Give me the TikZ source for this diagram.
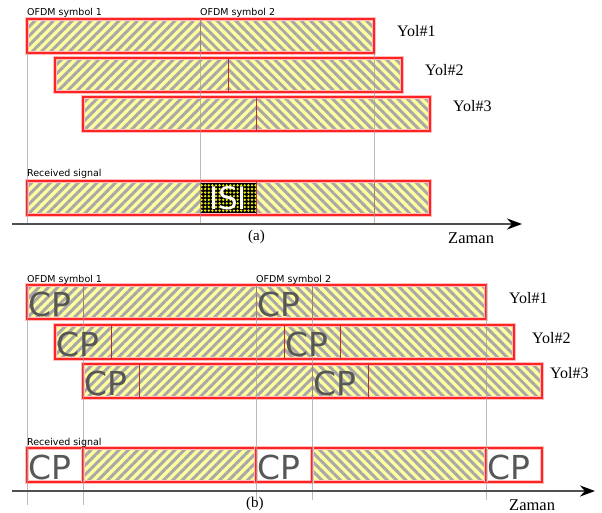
\documentclass[tikz,border=0pt]{standalone}
\usepackage{fontspec}
\setmainfont{Liberation Serif}
\newfontfamily\dvsans{DejaVu Sans}
\usetikzlibrary{patterns.meta,arrows.meta}
\definecolor{hyel}{HTML}{FFFF9E}
\definecolor{hgray}{HTML}{A8A8A8}
\definecolor{bred}{HTML}{FF2424}
\definecolor{dred}{HTML}{B83030}
\definecolor{cpgray}{HTML}{575757}
\definecolor{guidegray}{HTML}{A0A0A0}
\definecolor{axgray}{HTML}{505050}
\definecolor{isiyel}{HTML}{F0F000}
\begin{document}
\begin{tikzpicture}[x=1pt,y=-1pt,
  seg/.style={rectangle,inner sep=0pt,outer sep=0pt,minimum height=34pt,anchor=north west},
  hatchR/.style={preaction={fill=hyel},pattern={Lines[angle=45,distance=6.6pt,line width=3pt]},pattern color=hgray},
  hatchL/.style={preaction={fill=hyel},pattern={Lines[angle=-45,distance=6.6pt,line width=3pt]},pattern color=hgray},
  isibox/.style={preaction={fill=black},pattern={Dots[distance=3.6pt,radius=1.3pt]},pattern color=isiyel,
    text=white,font=\dvsans\fontsize{31}{33}\selectfont},
  blankbox/.style={fill=white},
  rowframe/.style={draw=bred,line width=1.4pt,preaction={draw=bred!30,line width=3.4pt}},
  divider/.style={draw=dred,line width=0.9pt},
  guideline/.style={draw=guidegray,line width=0.6pt,opacity=0.7},
  cptext/.style={anchor=base west,inner sep=0pt,text=cpgray,font=\dvsans\fontsize{33}{35}\selectfont},
  lbltext/.style={anchor=base west,inner sep=0pt,font=\dvsans\fontsize{9.5}{11}\selectfont},
  yoltext/.style={anchor=base west,inner sep=0pt,font=\fontsize{16}{18}\selectfont},
  zamtext/.style={anchor=base west,inner sep=0pt,font=\fontsize{16.5}{18}\selectfont},
  subcap/.style={anchor=base west,inner sep=0pt,font=\fontsize{15}{17}\selectfont},
  timeaxis/.style={draw=axgray,line width=2pt,arrows={-Stealth[length=15pt,width=11pt,black]}}
]
\useasboundingbox (0,0) rectangle (602,513);

% ---------------- (a) ----------------
\node[seg,hatchR,minimum width=173pt] (a1a) at (27,19) {};
\node[seg,hatchL,minimum width=174pt] (a1b) at (200,19) {};
\draw[rowframe] (a1a.north west) rectangle (a1b.south east);
\draw[divider] (a1a.north east) -- (a1a.south east);

\node[seg,hatchR,minimum width=173pt] (a2a) at (55,58) {};
\node[seg,hatchL,minimum width=174pt] (a2b) at (228,58) {};
\draw[rowframe] (a2a.north west) rectangle (a2b.south east);
\draw[divider] (a2a.north east) -- (a2a.south east);

\node[seg,hatchR,minimum width=173pt] (a3a) at (83,97) {};
\node[seg,hatchL,minimum width=174pt] (a3b) at (256,97) {};
\draw[rowframe] (a3a.north west) rectangle (a3b.south east);
\draw[divider] (a3a.north east) -- (a3a.south east);

\node[seg,hatchR,minimum width=173pt] (aRa) at (27,181) {};
\node[seg,isibox,minimum width=56pt] (aRisi) at (200,181) {ISI};
\node[seg,hatchL,minimum width=118pt] (aRb) at (256,181) {};
\node[seg,hatchL,minimum width=56pt] (aRc) at (374,181) {};
\draw[rowframe] (aRa.north west) rectangle (aRc.south east);
\draw[divider] (aRa.north east) -- (aRa.south east);
\draw[divider] (aRisi.north east) -- (aRisi.south east);
\draw[divider] (aRb.north east) -- (aRb.south east);

\coordinate (aAx0) at (12,224);
\coordinate (aAx1) at (522,224);
\coordinate (ag1) at (27,224);
\coordinate (ag2) at (200,224);
\coordinate (ag3) at (374,224);
\draw[guideline] (a1a.south west) -- (ag1);
\draw[guideline] (a1a.north east) -- (ag2);
\draw[guideline] (a1b.south east) -- (ag3);
\draw[timeaxis] (aAx0) -- (aAx1);

\node[lbltext] (aL1) at (27,15.5) {OFDM symbol 1};
\node[lbltext] (aL2) at (200,15.5) {OFDM symbol 2};
\node[lbltext] (aLR) at (27,177) {Received signal};
\node[yoltext] (aY1) at (397,37) {Yol\#1};
\node[yoltext] (aY2) at (425,76) {Yol\#2};
\node[yoltext] (aY3) at (453,112) {Yol\#3};
\node[zamtext] (aZ) at (448,243) {Zaman};
\node[subcap] (aCap) at (248,240) {(a)};

% ---------------- (b) ----------------
\node[seg,hatchR,minimum width=56pt] (b1c1) at (27,285) {};
\node[seg,hatchR,minimum width=173pt] (b1d1) at (83,285) {};
\node[seg,hatchL,minimum width=56pt] (b1c2) at (256,285) {};
\node[seg,hatchL,minimum width=174pt] (b1d2) at (312,285) {};
\draw[rowframe] (b1c1.north west) rectangle (b1d2.south east);
\draw[divider] (b1c1.north east) -- (b1c1.south east);
\draw[divider] (b1d1.north east) -- (b1d1.south east);
\draw[divider] (b1c2.north east) -- (b1c2.south east);

\node[seg,hatchR,minimum width=56pt] (b2c1) at (55,325) {};
\node[seg,hatchR,minimum width=173pt] (b2d1) at (111,325) {};
\node[seg,hatchL,minimum width=56pt] (b2c2) at (284,325) {};
\node[seg,hatchL,minimum width=174pt] (b2d2) at (340,325) {};
\draw[rowframe] (b2c1.north west) rectangle (b2d2.south east);
\draw[divider] (b2c1.north east) -- (b2c1.south east);
\draw[divider] (b2d1.north east) -- (b2d1.south east);
\draw[divider] (b2c2.north east) -- (b2c2.south east);

\node[seg,hatchR,minimum width=56pt] (b3c1) at (83,364) {};
\node[seg,hatchR,minimum width=173pt] (b3d1) at (139,364) {};
\node[seg,hatchL,minimum width=56pt] (b3c2) at (312,364) {};
\node[seg,hatchL,minimum width=174pt] (b3d2) at (368,364) {};
\draw[rowframe] (b3c1.north west) rectangle (b3d2.south east);
\draw[divider] (b3c1.north east) -- (b3c1.south east);
\draw[divider] (b3d1.north east) -- (b3d1.south east);
\draw[divider] (b3c2.north east) -- (b3c2.south east);

\node[seg,blankbox,minimum width=56pt] (bRc1) at (27,448) {};
\node[seg,hatchR,minimum width=173pt] (bRd1) at (83,448) {};
\node[seg,blankbox,minimum width=56pt] (bRc2) at (256,448) {};
\node[seg,hatchL,minimum width=174pt] (bRd2) at (312,448) {};
\node[seg,blankbox,minimum width=56pt] (bRc3) at (486,448) {};
\draw[rowframe] (bRc1.north west) rectangle (bRc3.south east);
\draw[rowframe] (bRc1.north east) -- (bRc1.south east);
\draw[rowframe] (bRc2.north west) rectangle (bRc2.south east);
\draw[rowframe] (bRc3.north west) -- (bRc3.south west);

\coordinate (bAx0) at (12,491);
\coordinate (bAx1) at (595,491);
\coordinate (bg1) at (27,505);
\coordinate (bg2) at (83,505);
\coordinate (bg3) at (256,500);
\coordinate (bg4) at (312,500);
\coordinate (bg5) at (486,500);
\draw[guideline] (b1c1.north west) -- (bg1);
\draw[guideline] (b1c1.north east) -- (bg2);
\draw[guideline] (b1c2.north west) -- (bg3);
\draw[guideline] (b1c2.north east) -- (bg4);
\draw[guideline] (b1d2.north east) -- (bg5);
\draw[timeaxis] (bAx0) -- (bAx1);

\node[cptext] (t11) at (28,316) {CP};
\node[cptext] (t12) at (257,316) {CP};
\node[cptext] (t21) at (56,356) {CP};
\node[cptext] (t22) at (285,356) {CP};
\node[cptext] (t31) at (84,395) {CP};
\node[cptext] (t32) at (313,395) {CP};
\node[cptext] (tR1) at (28,479) {CP};
\node[cptext] (tR2) at (257,479) {CP};
\node[cptext] (tR3) at (487,479) {CP};

\node[lbltext] (bL1) at (27,282) {OFDM symbol 1};
\node[lbltext] (bL2) at (256,282) {OFDM symbol 2};
\node[lbltext] (bLR) at (27,445) {Received signal};
\node[yoltext] (bY1) at (509,303) {Yol\#1};
\node[yoltext] (bY2) at (532,343) {Yol\#2};
\node[yoltext] (bY3) at (550,378) {Yol\#3};
\node[zamtext] (bZ) at (509,510) {Zaman};
\node[subcap] (bCap) at (246,507) {(b)};
\end{tikzpicture}
\end{document}
